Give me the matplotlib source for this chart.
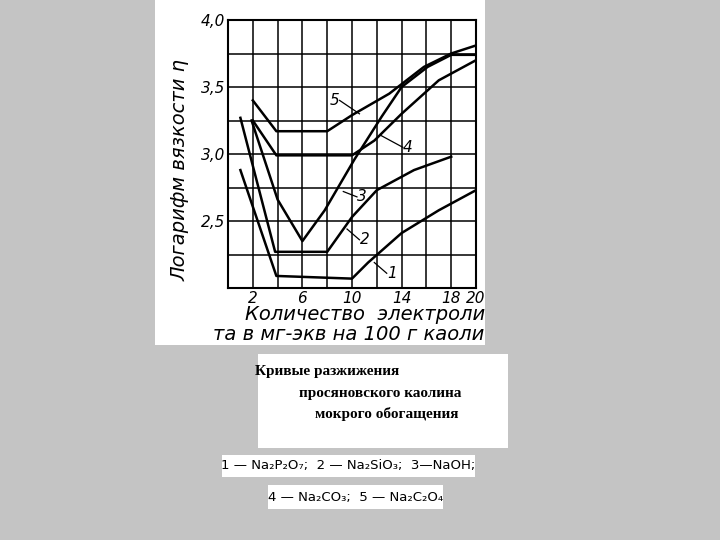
import matplotlib
matplotlib.use("Agg")
import matplotlib.pyplot as plt
from matplotlib.patches import Rectangle

x1 = [1, 3.9, 10, 11.3, 14, 17, 20]
y1 = [2.88, 2.09, 2.07, 2.19, 2.41, 2.58, 2.73]
x2 = [1, 3.8, 8, 10, 12, 15, 18]
y2 = [3.27, 2.27, 2.27, 2.53, 2.73, 2.88, 2.98]
x3 = [1.9, 4, 6, 7.8, 10.2, 12.4, 14, 16.1, 18, 20]
y3 = [3.25, 2.66, 2.35, 2.58, 2.96, 3.28, 3.50, 3.65, 3.74, 3.74]
x4 = [2, 3.9, 10, 11.8, 14, 17, 20]
y4 = [3.25, 2.99, 2.99, 3.10, 3.30, 3.55, 3.70]
x5 = [2, 3.9, 8, 10, 13, 15.8, 18, 20]
y5 = [3.40, 3.17, 3.17, 3.29, 3.45, 3.65, 3.75, 3.81]
xticks = [2, 6, 10, 14, 18, 20]
yticks = [2.5, 3.0, 3.5, 4.0]
ytick_labels = ["2,5", "3,0", "3,5", "4,0"]
labels = [("1", 13.2, 2.11, 11.8, 2.19), ("2", 11.0, 2.36, 9.6, 2.44),
          ("3", 10.8, 2.68, 9.3, 2.72), ("4", 14.5, 3.05, 12.3, 3.14),
          ("5", 8.6, 3.40, 10.6, 3.30)]

fig = plt.figure(figsize=(7.2, 5.4), dpi=100)
fig.patch.set_facecolor("#c4c4c4")
W, H = 720, 540
def rect(x0, y0, x1_, y1_):
    r = Rectangle((x0 / W, 1 - y1_ / H), (x1_ - x0) / W, (y1_ - y0) / H,
                  transform=fig.transFigure, facecolor="white", edgecolor="none", zorder=-5)
    fig.patches.append(r)
    return r
img = rect(155, 0, 485, 345)
rect(258, 354, 508, 448)
rect(222, 455, 475, 477)
rect(268, 485, 443, 509)

ax = fig.add_axes([228 / W, 1 - 288 / H, 248 / W, 268 / H], zorder=2)
for xs, ys in [(x1, y1), (x2, y2), (x3, y3), (x4, y4), (x5, y5)]:
    ax.plot(xs, ys, color="black", lw=1.8)
ax.set_xlim(0, 20)
ax.set_ylim(2.0, 4.0)
ax.set_xticks(list(range(0, 21, 2)))
ygrid = [2 + 0.25 * i for i in range(9)]
ax.set_yticks(ygrid)
ax.grid(True, color="black", lw=1.1)
ax.set_xticklabels([str(v) if v in xticks else "" for v in range(0, 21, 2)],
                   fontstyle="italic", fontsize=11)
ax.set_yticklabels([ytick_labels[yticks.index(v)] if v in yticks else "" for v in ygrid],
                   fontstyle="italic", fontsize=11)
ax.tick_params(length=0, pad=2)
for s in ax.spines.values():
    s.set_linewidth(1.5)
for t, tx, ty, lx, ly in labels:
    ax.text(tx, ty, t, fontsize=11, fontstyle="italic", ha="center", va="center")
    ax.plot([tx - 0.4 if lx < tx else tx + 0.4, lx], [ty, ly], color="black", lw=0.9)
ax.set_facecolor("white")

fig.text(180 / W, 1 - 170 / H, "Логарифм вязкости η", rotation=90, fontsize=14,
         fontstyle="italic", ha="center", va="center")
t1 = fig.text(245 / W, 1 - 315 / H, "Количество  электроли-", fontsize=14,
              fontstyle="italic", ha="left", va="center")
t2 = fig.text(213 / W, 1 - 334 / H, "та в мг-экв на 100 г каолина", fontsize=14,
              fontstyle="italic", ha="left", va="center")
for t in (t1, t2):
    t.set_clip_path(img)
    t.set_clip_on(True)

serif = dict(family="Liberation Serif", fontweight="bold", fontsize=11, va="center")
fig.text(327 / W, 1 - 372 / H, "Кривые разжижения", ha="center", **serif)
fig.text(380 / W, 1 - 393 / H, "просяновского каолина", ha="center", **serif)
fig.text(387 / W, 1 - 414 / H, "мокрого обогащения", ha="center", **serif)
fig.text(348 / W, 1 - 466 / H, "1 — Na₂P₂O₇;  2 — Na₂SiO₃;  3—NaOH;", ha="center",
         va="center", fontsize=9.5)
fig.text(356 / W, 1 - 497 / H, "4 — Na₂CO₃;  5 — Na₂C₂O₄", ha="center",
         va="center", fontsize=9.5)

fig.savefig("out.png", dpi=100, facecolor=fig.get_facecolor())
